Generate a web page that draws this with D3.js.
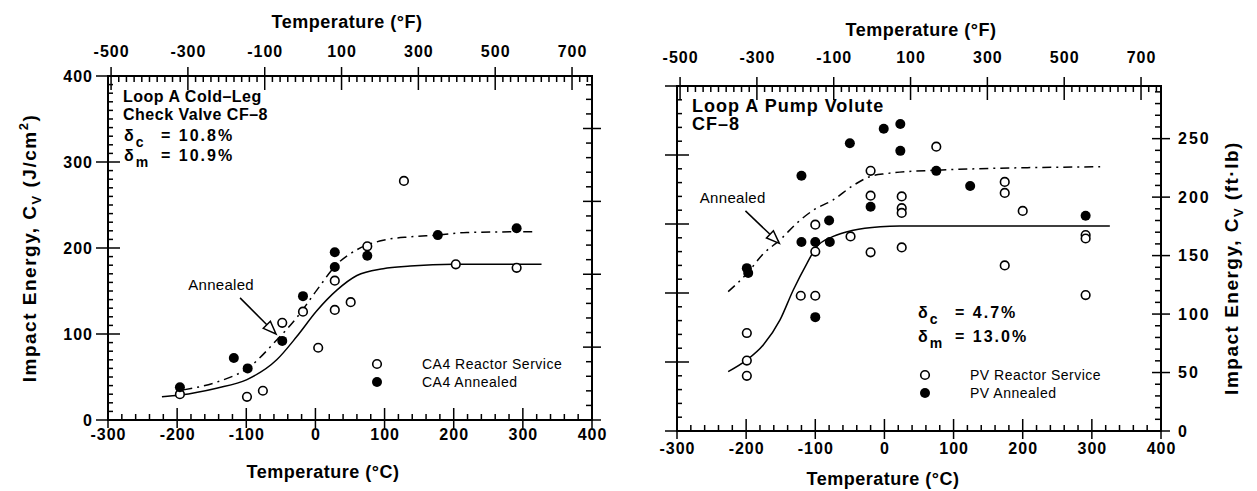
<!DOCTYPE html>
<html>
<head>
<meta charset="utf-8">
<script src="https://cdn.jsdelivr.net/npm/d3@7"></script>
<style>
body { margin: 0; background: #fff; }
text { font-family: "Liberation Sans", Arial, sans-serif; fill: #000; }
</style>
</head>
<body>
<script>
'use strict';

// axis ticks
const cTicks = [-300, -200, -100, 0, 100, 200, 300, 400];
const fTicks = [-500, -300, -100, 100, 300, 500, 700];
const ftlbTicks = [0, 50, 100, 150, 200, 250];

// [temperature °C, Cv J/cm2]
const ca4Service = [[-196, 30], [-99, 27], [-76, 34], [-48, 113], [-18, 126], [4, 84],
    [28, 162], [28, 128], [51, 137], [75, 202], [128, 278], [203, 181], [291, 177]];
const ca4Annealed = [[-196, 38], [-118, 72], [-98, 60], [-48, 92], [-18, 144], [28, 195],
    [28, 178], [75, 191], [177, 215], [291, 223]];
const ca4ServiceCurve = [[-222, 27], [-196, 29], [-143, 37], [-99, 47], [-56, 70], [-27, 97],
    [2, 127], [31, 151], [60, 168], [98, 176], [137, 179], [200, 181], [327, 181]];
const ca4AnnealedCurve = [[-191, 35], [-143, 44], [-95, 62], [-56, 93], [-27, 119], [2, 151],
    [31, 181], [60, 198], [98, 209], [137, 213], [177, 215], [219, 218], [318, 219]];

const pvService = [[-199, 142], [-199, 102], [-199, 80], [-121, 196], [-100, 196], [-100, 299],
    [-100, 260], [-49, 282], [-20, 377], [-20, 341], [-20, 259], [25, 340], [25, 323], [25, 316],
    [25, 266], [75, 412], [174, 361], [174, 345], [200, 319], [174, 240], [291, 284], [291, 279],
    [291, 197]];
const pvAnnealed = [[-199, 236], [-197, 229], [-120, 370], [-120, 274], [-100, 165], [-100, 274],
    [-80, 305], [-79, 274], [-50, 417], [-20, 325], [-1, 438], [23, 445], [23, 406], [75, 377],
    [124, 355], [291, 312]];
const pvServiceCurve = [[-226, 86], [-199, 103], [-175, 125], [-151, 161], [-132, 204],
    [-112, 243], [-98, 267], [-74, 282], [-45, 291], [-6, 296], [22, 297], [326, 297]];
const pvAnnealedCurve = [[-226, 202], [-199, 228], [-175, 257], [-151, 277], [-127, 301],
    [-103, 320], [-74, 335], [-45, 356], [-20, 369], [3, 373], [75, 378], [312, 383]];

const J_PER_FTLB = 1.6948; // 1 ft-lb on a 0.8 cm2 Charpy section
function cToF(c) { return c * 9 / 5 + 32; }

let svg = d3.select("body").append("svg")
    .attr("width", 1257)
    .attr("height", 491);

function tickLines(g, scale, values, pos, horizontal, dir, inner, outer) {
    g.append("g").selectAll("line")
        .data(values)
        .enter().append("line")
        .attr("x1", d => horizontal ? scale(d) : pos + dir * inner)
        .attr("x2", d => horizontal ? scale(d) : pos - dir * outer)
        .attr("y1", d => horizontal ? pos + dir * inner : scale(d))
        .attr("y2", d => horizontal ? pos - dir * outer : scale(d))
        .attr("stroke", "#000")
        .attr("stroke-width", 1.5);
}

function labelAxis(axis, g) {
    g.call(axis.tickSize(0).tickFormat(d => String(d)));
    g.select(".domain").remove();
    g.selectAll("text")
        .style("font-family", "'Liberation Sans', Arial, sans-serif")
        .style("font-size", "16px")
        .style("font-weight", "bold")
        .style("letter-spacing", "1px")
        .attr("fill", "#000");
}

function drawPanel(p) {
    let x = d3.scaleLinear().domain([-300, 400]).range(p.xRange);
    let xF = d3.scaleLinear().domain([cToF(-300), cToF(400)]).range(p.xRange);
    let y = d3.scaleLinear().domain([0, p.jMax]).range(p.yRange);
    let yFt = d3.scaleLinear().domain([0, p.jMax / J_PER_FTLB]).range(p.yRange);

    let g = svg.append("g");
    let x0 = p.xRange[0], x1 = p.xRange[1], y0 = p.yRange[0], y1 = p.yRange[1];

    g.append("rect")
        .attr("x", x0).attr("y", y1)
        .attr("width", x1 - x0).attr("height", y0 - y1)
        .attr("fill", "none")
        .attr("stroke", "#000")
        .attr("stroke-width", 2);

    // bottom °C
    let cMinor = d3.range(-280, 400, 20).filter(v => v % 100 !== 0);
    tickLines(g, x, cTicks, y0, true, -1, 12, 8);
    tickLines(g, x, cMinor, y0, true, -1, 6, 0);
    labelAxis(d3.axisBottom(x).tickValues(cTicks).tickPadding(p.bottomPad),
        g.append("g").attr("transform", "translate(0," + y0 + ")"));

    // top °F
    let fMinor = d3.range(-500, 750, 20).filter(v => (v + 500) % 200 !== 0);
    tickLines(g, xF, fTicks, y1, true, 1, 14, 9);
    tickLines(g, xF, fMinor, y1, true, 1, 6, 0);
    labelAxis(d3.axisTop(xF).tickValues(fTicks).tickPadding(p.topPad),
        g.append("g").attr("transform", "translate(0," + y1 + ")"));

    // left J/cm2
    let jMajor = d3.range(0, p.jMax + 1, 100);
    let jMinor = d3.range(0, p.jMax, p.jMinorStep).filter(v => v % 100 !== 0);
    tickLines(g, y, jMajor, x0, false, 1, 12, 12);
    tickLines(g, y, jMinor, x0, false, 1, 5, 0);
    if (p.leftLabels) {
        labelAxis(d3.axisLeft(y).tickValues(jMajor).tickPadding(15),
            g.append("g").attr("transform", "translate(" + x0 + ",0)"));
    }

    // right ft-lb
    let ftMax = p.jMax / J_PER_FTLB;
    let ftMajor = ftlbTicks.filter(v => v <= ftMax);
    let ftMinor = d3.range(0, ftMax, 10).filter(v => v % 50 !== 0);
    tickLines(g, yFt, ftMajor, x1, false, -1, 9, 9);
    tickLines(g, yFt, ftMinor, x1, false, -1, 6, 0);
    if (p.rightLabels) {
        let ra = g.append("g").attr("transform", "translate(" + x1 + ",0)");
        labelAxis(d3.axisRight(yFt).tickValues(ftMajor).tickPadding(17), ra);
        ra.selectAll("text").style("letter-spacing", "2px");
    }

    // axis titles
    let title = g.append("g")
        .style("font-size", "18px")
        .style("font-weight", "bold")
        .style("letter-spacing", "0.5px");
    title.append("text")
        .attr("x", p.bottomTitleX).attr("y", p.bottomTitleY)
        .attr("text-anchor", "middle")
        .text("Temperature (°C)");
    title.append("text")
        .attr("x", p.topTitleX).attr("y", p.topTitleY)
        .attr("text-anchor", "middle")
        .text("Temperature (°F)");

    let yt = title.append("text")
        .attr("transform", "translate(" + p.yTitleX + "," + p.yTitleY + ") rotate(-90)")
        .attr("text-anchor", "middle")
        .style("font-size", "19px")
        .style("letter-spacing", "1.5px");
    yt.append("tspan").text("Impact Energy, C");
    yt.append("tspan").attr("dy", 5).style("font-size", "13px").text("V");
    yt.append("tspan").attr("dy", -5).text("  (" + p.unit);
    if (p.unitSup) {
        yt.append("tspan").attr("dy", -8).style("font-size", "13px").text(p.unitSup);
        yt.append("tspan").attr("dy", 8).text(")");
    } else {
        yt.append("tspan").text(")");
    }

    // fitted curves
    let line = d3.line()
        .x(d => x(d[0]))
        .y(d => y(d[1]))
        .curve(d3.curveMonotoneX);

    g.append("path")
        .datum(p.serviceCurve)
        .attr("d", line)
        .attr("fill", "none")
        .attr("stroke", "#000")
        .attr("stroke-width", 1.5);

    g.append("path")
        .datum(p.annealedCurve)
        .attr("d", line)
        .attr("fill", "none")
        .attr("stroke", "#000")
        .attr("stroke-width", 1.5)
        .attr("stroke-dasharray", "9,5,2,5");

    // data points
    g.append("g").selectAll("circle")
        .data(p.service)
        .enter().append("circle")
        .attr("cx", d => x(d[0]))
        .attr("cy", d => y(d[1]))
        .attr("r", 4.3)
        .attr("fill", "#fff")
        .attr("stroke", "#000")
        .attr("stroke-width", 1.6);

    g.append("g").selectAll("circle")
        .data(p.annealed)
        .enter().append("circle")
        .attr("cx", d => x(d[0]))
        .attr("cy", d => y(d[1]))
        .attr("r", 5)
        .attr("fill", "#000");

    // "Annealed" arrow
    let ax0 = x(p.arrow[0][0]), ay0 = y(p.arrow[0][1]);
    let ax1 = x(p.arrow[1][0]), ay1 = y(p.arrow[1][1]);
    let ang = Math.atan2(ay1 - ay0, ax1 - ax0);
    let hl = 13, hw = 5;
    let bx = ax1 - hl * Math.cos(ang), by = ay1 - hl * Math.sin(ang);
    g.append("line")
        .attr("x1", ax0).attr("y1", ay0)
        .attr("x2", bx).attr("y2", by)
        .attr("stroke", "#000").attr("stroke-width", 1.5);
    g.append("polygon")
        .attr("points", [
            [ax1, ay1],
            [bx + hw * Math.sin(ang), by - hw * Math.cos(ang)],
            [bx - hw * Math.sin(ang), by + hw * Math.cos(ang)]
        ].map(q => q.join(",")).join(" "))
        .attr("fill", "#fff")
        .attr("stroke", "#000")
        .attr("stroke-width", 1.5);
    g.append("text")
        .attr("x", x(p.arrowText[0])).attr("y", y(p.arrowText[1]))
        .style("font-size", "15px")
        .style("letter-spacing", "0.3px")
        .text("Annealed");

    // material notes
    let note = g.append("g")
        .style("font-size", p.noteSize + "px")
        .style("font-weight", "bold")
        .style("letter-spacing", p.noteSpacing + "px");
    p.notes.forEach(function(t, i) {
        note.append("text")
            .attr("x", x0 + 15).attr("y", y1 + 26 + i * 18)
            .text(t);
    });

    let delta = g.append("g")
        .style("font-size", "16px")
        .style("font-weight", "bold")
        .style("letter-spacing", "2px");
    p.deltas.forEach(function(t, i) {
        let ty = p.deltaPos[1] + i * p.deltaGap;
        let tx = delta.append("text").attr("x", p.deltaPos[0]).attr("y", ty);
        tx.append("tspan").text("δ");
        tx.append("tspan").attr("dy", 6).style("font-size", "14px").text(t[0]);
        delta.append("text").attr("x", p.deltaPos[0] + 37).attr("y", ty).text("= " + t[1]);
    });

    // legend
    let leg = g.append("g")
        .style("font-size", "14px")
        .style("letter-spacing", "0.5px");
    p.legend.forEach(function(t, i) {
        let ly = p.legendPos[1] + i * 18;
        leg.append("circle")
            .attr("cx", p.legendPos[0]).attr("cy", ly)
            .attr("r", i === 0 ? 4.3 : 5)
            .attr("fill", i === 0 ? "#fff" : "#000")
            .attr("stroke", "#000")
            .attr("stroke-width", i === 0 ? 1.6 : 0);
        leg.append("text")
            .attr("x", p.legendPos[0] + 45).attr("y", ly + 5)
            .text(t);
    });
}

drawPanel({
    xRange: [108, 592], yRange: [420, 76], jMax: 400, jMinorStep: 10,
    leftLabels: true, rightLabels: false,
    bottomPad: 9, topPad: 19, bottomTitleX: 323, bottomTitleY: 478,
    topTitleX: 347, topTitleY: 28,
    yTitleX: 36, yTitleY: 248, unit: "J/cm", unitSup: "2",
    service: ca4Service, annealed: ca4Annealed,
    serviceCurve: ca4ServiceCurve, annealedCurve: ca4AnnealedCurve,
    arrow: [[-109, 142], [-57, 100]], arrowText: [-184, 151],
    notes: ["Loop A Cold\u2013Leg", "Check Valve CF\u20138"], noteSize: 16, noteSpacing: 0.5,
    deltas: [["c", "10.8%"], ["m", "10.9%"]], deltaPos: [124, 141], deltaGap: 20,
    legend: ["CA4 Reactor Service", "CA4 Annealed"], legendPos: [377, 364]
});

drawPanel({
    xRange: [677, 1161], yRange: [431, 86], jMax: 500, jMinorStep: 20,
    leftLabels: false, rightLabels: true,
    bottomPad: 12, topPad: 23, bottomTitleX: 883, bottomTitleY: 485,
    topTitleX: 921, topTitleY: 36,
    yTitleX: 1238, yTitleY: 268, unit: "ft\u00b7lb", unitSup: null,
    service: pvService, annealed: pvAnnealed,
    serviceCurve: pvServiceCurve, annealedCurve: pvAnnealedCurve,
    arrow: [[-201, 319], [-152, 272]], arrowText: [-267, 330],
    notes: ["Loop A Pump Volute", "CF\u20138"], noteSize: 18, noteSpacing: 1,
    deltas: [["c", "4.7%"], ["m", "13.0%"]], deltaPos: [918, 318], deltaGap: 24,
    legend: ["PV Reactor Service", "PV Annealed"], legendPos: [925, 375]
});
</script>
</body>
</html>
